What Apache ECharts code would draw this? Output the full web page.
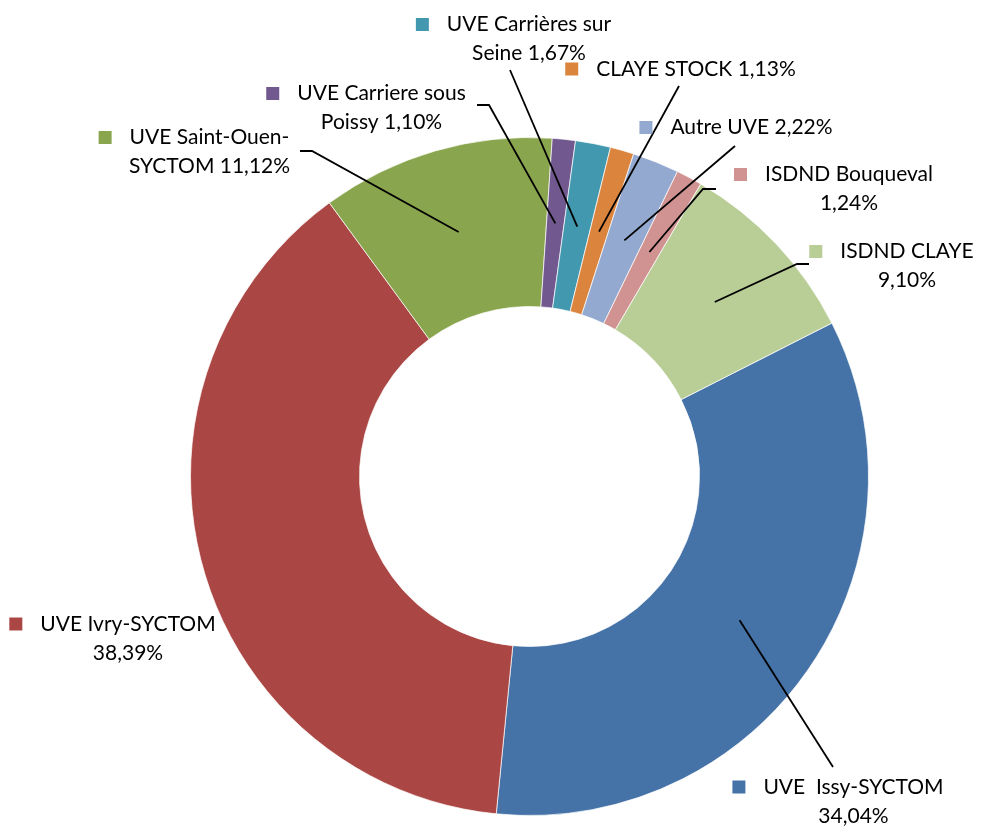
<!DOCTYPE html>
<html>
<head>
<meta charset="utf-8">
<title>Répartition des tonnages</title>
<script src="https://cdn.jsdelivr.net/npm/echarts@6/dist/echarts.min.js"></script>
<style>
html, body { margin: 0; padding: 0; background: #fff; }
#main { width: 988px; height: 828px; }
</style>
</head>
<body>
<div id="main"></div>
<script>
// slices, clockwise starting with Issy
var names = ['UVE  Issy-SYCTOM\n', 'UVE Ivry-SYCTOM\n', 'UVE Saint-Ouen-\nSYCTOM', 'UVE Carriere sous\nPoissy',
             'UVE Carrières sur\nSeine', 'CLAYE STOCK', 'Autre UVE', 'ISDND Bouqueval\n', 'ISDND CLAYE\n'];
var values = [34.04, 38.39, 11.12, 1.10, 1.67, 1.13, 2.22, 1.24, 9.10];
var colors = ['#4572A7', '#AA4643', '#89A54E', '#71588F', '#4198AF', '#DB843D', '#93A9CF', '#D19392', '#B9CD96'];

// label placement: text centre x, first line centre y, leader line after its start
var labelPos = [
  { x: 853.5, y: 787,   line: [[833, 767]] },
  { x: 128,   y: 624,   line: null },
  { x: 209.5, y: 137.5, line: [[312, 151], [300, 151]] },
  { x: 381.5, y: 93.5,  line: [[489, 105], [477, 105]] },
  { x: 529,   y: 24.5,  line: [[510, 70]] },
  { x: 696,   y: 69,    line: [[679, 86]] },
  { x: 751.5, y: 127.5, line: [[735, 146]] },
  { x: 849,   y: 174.5, line: [[703, 189], [716, 189]] },
  { x: 907,   y: 251.5, line: [[797, 264], [809, 264]] }
];

var center = [529.5, 476.5];
var startAngle = 26.9;

function pct(v) { return v.toFixed(2).replace('.', ',') + '%'; }
function labelText(i) { return (names[i] + ' ' + pct(values[i])).replace('\n ', '\n'); }

var rich = {
  t: { fontFamily: 'Lato', fontSize: 21, color: '#000', lineHeight: 29 },
  gap: { width: 18 },
  pad: { width: 31 }
};
colors.forEach(function (c, i) {
  rich['sq' + i] = { width: 13, height: 13, backgroundColor: c };
});

var ringData = values.map(function (v, i) {
  return { name: names[i], value: v, itemStyle: { color: colors[i] } };
});
var labelData = values.map(function (v, i) {
  return { name: names[i], value: v, labelLine: { show: !!labelPos[i].line } };
});

var myChart = echarts.init(document.getElementById('main'));
var option = {
  backgroundColor: '#fff',
  animation: false,
  series: [
    {
      type: 'pie',
      z: 2,
      center: center,
      radius: [170, 339],
      startAngle: startAngle,
      silent: true,
      label: { show: false },
      labelLine: { show: false },
      itemStyle: { borderColor: 'rgba(255,255,255,0.7)', borderWidth: 1 },
      data: ringData
    },
    {
      // transparent copy: its outer edge is the middle of the ring, where leaders start
      type: 'pie',
      z: 5,
      center: center,
      radius: [0, 254.5],
      startAngle: startAngle,
      silent: true,
      avoidLabelOverlap: false,
      itemStyle: { color: 'rgba(0,0,0,0)' },
      label: {
        show: true,
        position: 'outside',
        formatter: function (p) {
          var lines = labelText(p.dataIndex).split('\n');
          var s = '{sq' + p.dataIndex + '|}{gap|}{t|' + lines[0] + '}';
          if (lines[1]) s += '\n{pad|}{t|' + lines[1] + '}';
          return s;
        },
        rich: rich
      },
      labelLine: { show: true, length: 10, length2: 10, lineStyle: { color: '#000', width: 1.8 } },
      labelLayout: function (params) {
        var L = labelPos[params.dataIndex];
        var twoLines = labelText(params.dataIndex).indexOf('\n') >= 0;
        var res = {
          x: L.x - 15.5,
          y: twoLines ? L.y + 14.5 : L.y,
          align: 'center',
          verticalAlign: 'middle'
        };
        if (L.line && params.labelLinePoints) {
          res.labelLinePoints = [params.labelLinePoints[0]].concat(L.line);
        }
        return res;
      },
      data: labelData
    }
  ]
};
myChart.setOption(option);
</script>
</body>
</html>
